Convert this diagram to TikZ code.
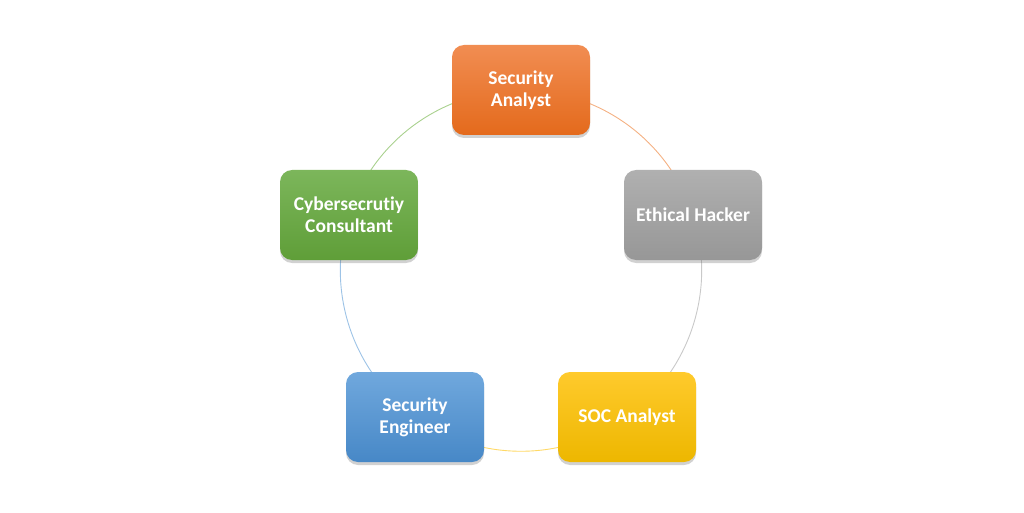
\documentclass[tikz,border=0pt]{standalone}
\usepackage{fontspec}
\setmainfont[Ligatures=NoCommon]{Carlito}
\usetikzlibrary{shadows,backgrounds}
\definecolor{orT}{HTML}{F18D52}\definecolor{orB}{HTML}{E46A1C}
\definecolor{gyT}{HTML}{B0B0B0}\definecolor{gyB}{HTML}{979797}
\definecolor{ywT}{HTML}{FFCA2C}\definecolor{ywB}{HTML}{EDB700}
\definecolor{blT}{HTML}{70A8DD}\definecolor{blB}{HTML}{4788C7}
\definecolor{grT}{HTML}{7CB65B}\definecolor{grB}{HTML}{5F9E38}
\definecolor{orL}{HTML}{F4B183}\definecolor{gyL}{HTML}{C9C9C9}
\definecolor{ywL}{HTML}{FFD966}\definecolor{blL}{HTML}{9DC3E6}
\definecolor{grL}{HTML}{A9D18E}
\tikzset{
  rolebox/.style={rectangle, rounded corners=12pt, minimum width=138pt, minimum height=90pt,
    text=white, font=\fontsize{19.5}{22}\selectfont\bfseries, align=center, inner sep=2pt,
    drop shadow={shadow xshift=0pt, shadow yshift=-3pt, opacity=0.3, fill=black!60}},
  arcline/.style={line width=0.9pt, bend left=36, looseness=0.94},
}
\begin{document}
\begin{tikzpicture}[x=1pt,y=1pt]
\useasboundingbox (0,0) rectangle (1024,512);
\node[rolebox, top color=orT, bottom color=orB] (sa) at (521,422) {Security\\Analyst};
\node[rolebox, top color=gyT, bottom color=gyB] (eh) at (693,297) {Ethical Hacker};
\node[rolebox, top color=ywT, bottom color=ywB] (soc) at (627,95) {SOC Analyst};
\node[rolebox, top color=blT, bottom color=blB] (se) at (415,95) {Security\\Engineer};
\node[rolebox, top color=grT, bottom color=grB] (cc) at (349,297) {Cybersecrutiy\\Consultant};
\begin{scope}[on background layer]
\draw[arcline, orL] (sa.center) to (eh.center);
\draw[arcline, gyL] (eh.center) to (soc.center);
\draw[arcline, ywL] (soc.center) to (se.center);
\draw[arcline, blL] (se.center) to (cc.center);
\draw[arcline, grL] (cc.center) to (sa.center);
\end{scope}
\end{tikzpicture}
\end{document}
